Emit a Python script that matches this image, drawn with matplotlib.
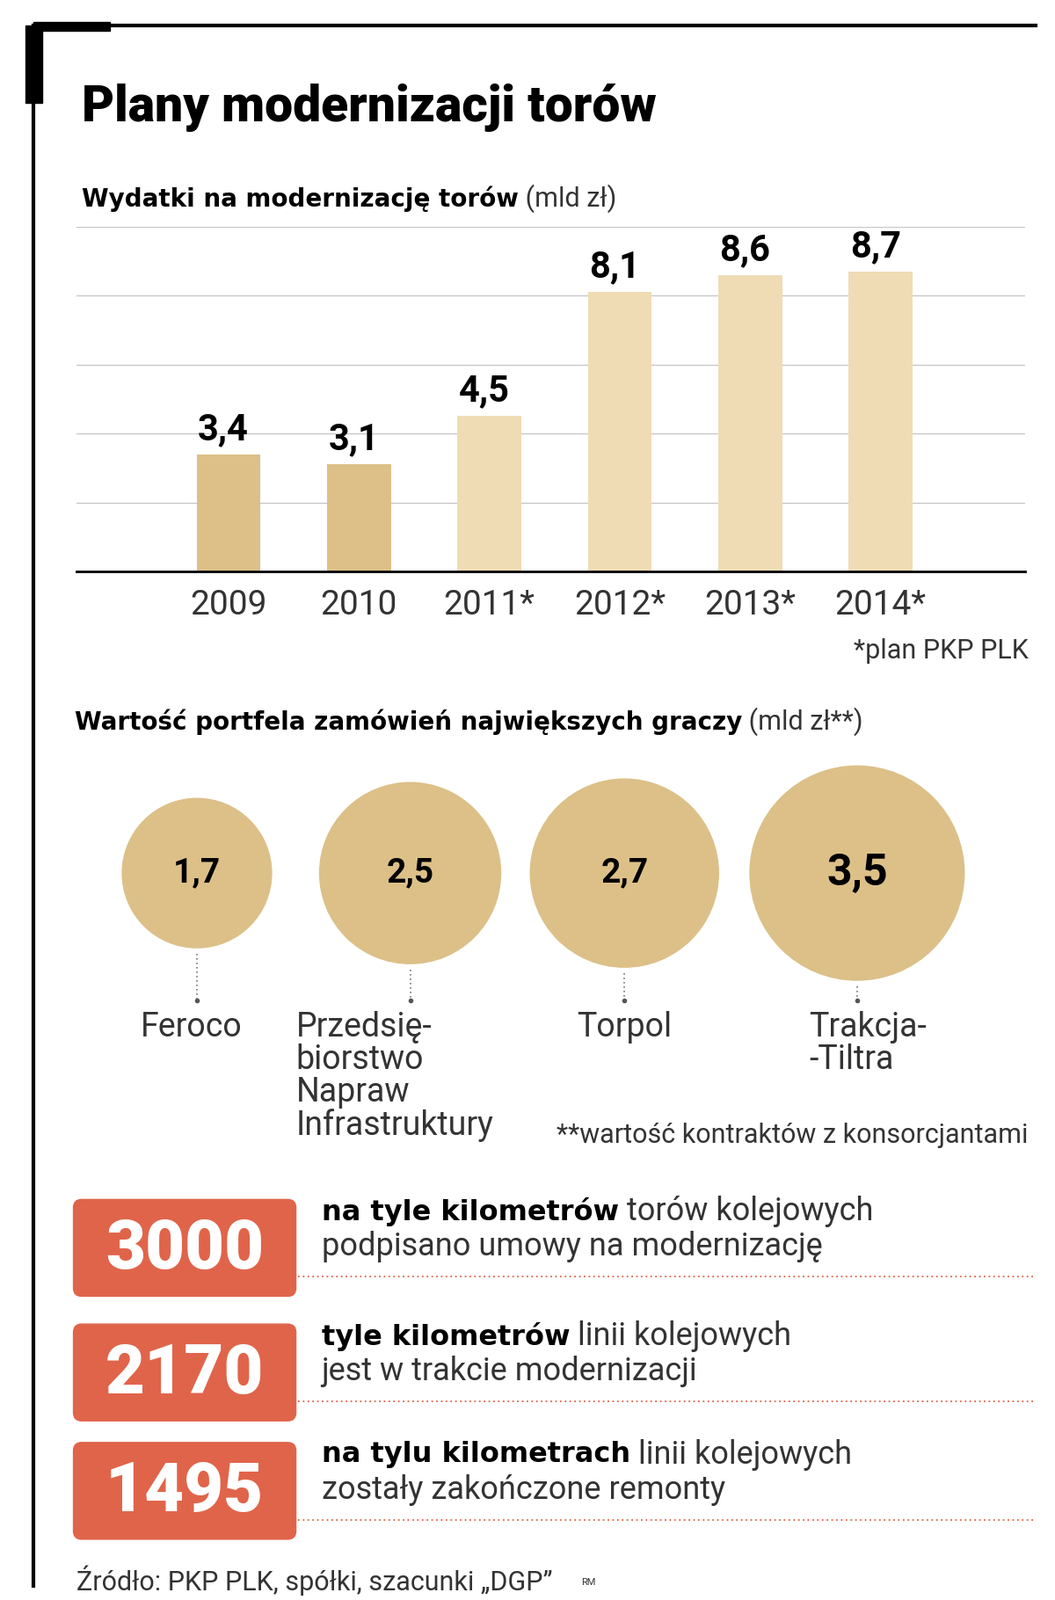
import matplotlib.pyplot as plt
from matplotlib.patches import Ellipse, FancyBboxPatch, Rectangle

years = ["2009", "2010", "2011*", "2012*", "2013*", "2014*"]
spend = [3.4, 3.1, 4.5, 8.1, 8.6, 8.7]
spend_labels = ["3,4", "3,1", "4,5", "8,1", "8,6", "8,7"]

firms = ["Feroco", "Przedsię-\nbiorstwo\nNapraw\nInfrastruktury", "Torpol", "Trakcja-\n-Tiltra"]
portfolio = [1.7, 2.5, 2.7, 3.5]
portfolio_labels = ["1,7", "2,5", "2,7", "3,5"]

km_values = ["3000", "2170", "1495"]
km_bold = ["na tyle kilometrów", "tyle kilometrów", "na tylu kilometrach"]
km_rest1 = [" torów kolejowych", " linii kolejowych", " linii kolejowych"]
km_line2 = ["podpisano umowy na modernizację", "jest w trakcie modernizacji", "zostały zakończone remonty"]

W, H = 1034, 1554
DARK = "#dcc088"
LIGHT = "#efdcb4"
RED = "#e0644a"
TXT = "#333333"
plt.rcParams["font.family"] = "Roboto"

fig = plt.figure(figsize=(12, 18.2), dpi=100)
ov = fig.add_axes([0, 0, 1, 1])
ov.set_xlim(0, W)
ov.set_ylim(H, 0)
ov.axis("off")


def after(t, y, s, **kw):
    # put regular text right after a bold piece
    fig.canvas.draw()
    bb = t.get_window_extent().transformed(ov.transData.inverted())
    ov.text(bb.x1, y, s, va="center", color=TXT, **kw)


# frame
ov.plot([33, 33], [25, 1540], color="black", lw=3)
ov.plot([33, 1015], [25, 25], color="black", lw=3)
ov.add_patch(Rectangle((25, 25), 16, 75, color="black"))
ov.add_patch(Rectangle((33, 21), 75, 9, color="black"))

ov.text(80, 105, "Plany modernizacji torów", fontsize=41, fontweight="heavy", va="center")
t = ov.text(80, 193, "Wydatki na modernizację torów", fontsize=20, fontweight="bold",
            va="center", family="DejaVu Sans")
after(t, 193, " (mld zł)", fontsize=22)

# bar chart
ax = fig.add_axes([75 / W, 1 - 555 / H, 930 / W, 335 / H])
xs = list(range(len(years)))
colors = [DARK, DARK] + [LIGHT] * 4
ax.bar(xs, spend, width=0.49, color=colors, zorder=2)
for x, v, lab in zip(xs, spend, spend_labels):
    ax.text(x - 0.04, v + 0.2, lab, ha="center", va="bottom", fontsize=30, fontweight="bold")
ax.set_xlim(-1.166, 6.11)
ax.set_ylim(0, 10)
ax.set_yticks([0, 2, 4, 6, 8, 10])
ax.grid(axis="y", color="#c8c8c8", lw=1, zorder=0)
ax.tick_params(left=False, labelleft=False, bottom=False, labelbottom=False)
for s in ["top", "right", "left"]:
    ax.spines[s].set_visible(False)
ax.spines["bottom"].set_linewidth(2)
for x, y in zip(xs, years):
    ov.text(224 + x * 127.8, 588, y, ha="center", va="center", fontsize=28, color=TXT)
ov.text(1008, 632, "*plan PKP PLK", ha="right", va="center", fontsize=22, color=TXT)

# portfolio circles
t = ov.text(73, 701, "Wartość portfela zamówień największych graczy", fontsize=20,
            fontweight="bold", va="center", family="DejaVu Sans")
after(t, 701, " (mld zł**)", fontsize=22)
cx = [193, 402, 612, 840]
unit = 105 / 3.5 ** 0.5
asp = (1200 / W) / (1820 / H)
lab_x = [138, 290, 565, 793]
for i, v in enumerate(portfolio):
    r = unit * v ** 0.5
    cy = 848
    ov.add_patch(Ellipse((cx[i], cy), 2 * r, 2 * r * asp, color=DARK))
    ov.text(cx[i], cy, portfolio_labels[i], ha="center", va="center",
            fontsize=28 + 8 * (i == 3), fontweight="bold")
    ov.plot([cx[i], cx[i]], [cy + r + 5, 970], color="#777777", lw=1.2, ls=(0, (1, 2)))
    ov.plot(cx[i], 972, "o", color="#555555", ms=3)
    ov.text(lab_x[i], 982, firms[i], ha="left", va="top", fontsize=27,
            color=TXT, linespacing=1.0)
ov.text(1008, 1103, "**wartość kontraktów z konsorcjantami", ha="right", va="center",
        fontsize=22, color=TXT)

# km boxes
box_y = [1162, 1283, 1398]
for i in range(3):
    y0 = box_y[i]
    ov.add_patch(FancyBboxPatch((72, y0 + 3), 218, 94, boxstyle="round,pad=0,rounding_size=8",
                                color=RED))
    ov.text(181, y0 + 52, km_values[i], ha="center", va="center", fontsize=56,
            fontweight="heavy", color="white")
    t = ov.text(315, y0 + 15, km_bold[i], fontsize=23, fontweight="bold", va="center",
                family="DejaVu Sans")
    after(t, y0 + 15, km_rest1[i], fontsize=26)
    ov.text(315, y0 + 49, km_line2[i], fontsize=26, va="center", color=TXT)
    ov.plot([292, 1015], [y0 + 78, y0 + 78], color=RED, lw=1.3, ls=(0, (1, 2)))

ov.text(75, 1535, "Źródło: PKP PLK, spółki, szacunki „DGP”", fontsize=22, va="center", color=TXT)
ov.text(570, 1537, "RM", fontsize=8, va="center", color=TXT)

fig.savefig("out.png", dpi=100)
